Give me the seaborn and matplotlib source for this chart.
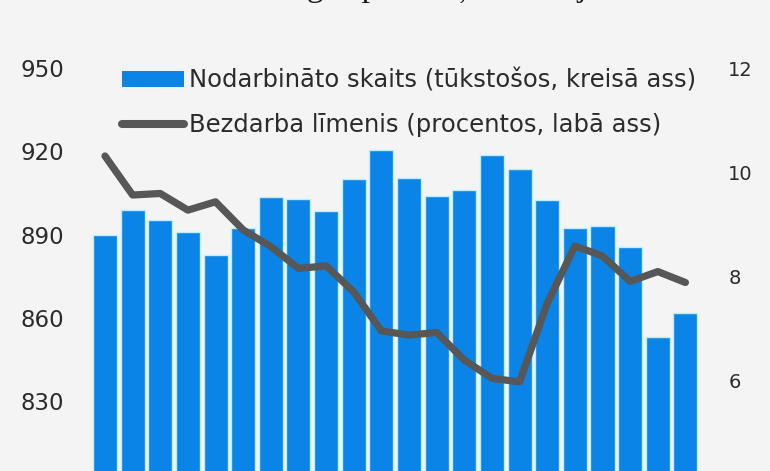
import numpy as np
import pandas as pd
import matplotlib
matplotlib.use("Agg")
import matplotlib.pyplot as plt
import seaborn as sns
from matplotlib.patches import Patch
from matplotlib.lines import Line2D

# ---- data ----
periods = ["P01", "P02", "P03", "P04", "P05", "P06", "P07", "P08", "P09", "P10", "P11",
           "P12", "P13", "P14", "P15", "P16", "P17", "P18", "P19", "P20", "P21", "P22"]
employed = [889.9, 898.9, 895.3, 890.8, 882.7, 892.3, 903.4, 902.9, 898.4, 910.0, 920.5,
            910.5, 903.9, 906.1, 918.7, 913.5, 902.5, 892.3, 893.2, 885.6, 853.2, 861.9]
unemployment = [10.31, 9.56, 9.59, 9.27, 9.43, 8.89, 8.57, 8.15, 8.20, 7.70, 6.95,
                6.87, 6.92, 6.39, 6.04, 5.97, 7.48, 8.58, 8.39, 7.90, 8.09, 7.88]
left_ticks = [830, 860, 890, 920, 950]
right_ticks = [6, 8, 10, 12]
label_bars = "Nodarbināto skaits (tūkstošos, kreisā ass)"
label_line = "Bezdarba līmenis (procentos, labā ass)"
title_text = "Darba tirgus pārmaiņas Latvijā"

bar_color = "#0a84e6"
line_color = "#575757"
bg = "#f4f4f4"
txt_color = "#2b2b2b"

sns.set_theme(style="white")
plt.rcParams["font.family"] = ["DejaVu Sans"]

df = pd.DataFrame({"period": periods, "employed": employed,
                   "unemployment": unemployment})
df["pos"] = np.arange(len(df))

W, H = 770, 471
fig = plt.figure(figsize=(W / 100, H / 100), dpi=100, facecolor=bg)
ax_left, ax_top, ax_right, ax_bottom = 80.1, 68.0, 710.3, 484.5
ax = fig.add_axes([ax_left / W, (H - ax_bottom) / H,
                   (ax_right - ax_left) / W, (ax_bottom - ax_top) / H])
ax.set_facecolor(bg)

sns.barplot(data=df, x="pos", y="employed", color=bar_color, saturation=1,
            width=0.87, edgecolor="#bdeeff", linewidth=1.0, ax=ax)
ax.set_xlim(-0.9, 21.9)
ax.set_ylim(800, 950)
ax.set_yticks(left_ticks)
ax.set_yticklabels([str(t) for t in left_ticks], fontsize=16.5, color=txt_color)
ax.set_xticks([])
ax.set_xlabel("")
ax.set_ylabel("")
ax.tick_params(axis="y", length=0, pad=11.5)

ax2 = ax.twinx()
sns.lineplot(data=df, x="pos", y="unemployment", color=line_color, linewidth=5.2,
             ax=ax2, solid_capstyle="round", solid_joinstyle="round")
ax2.set_ylim(4, 12)
ax2.set_yticks(right_ticks)
ax2.set_yticklabels([str(t) for t in right_ticks], fontsize=14, color=txt_color)
ax2.tick_params(axis="y", length=0, pad=13)
ax2.set_xlabel("")
ax2.set_ylabel("")
ax2.set_xlim(-0.9, 21.9)

for a in (ax, ax2):
    for s in a.spines.values():
        s.set_visible(False)

handles = [Patch(facecolor=bar_color, edgecolor="none"),
           Line2D([0], [0], color=line_color, linewidth=5.8, solid_capstyle="round")]
fig.legend(handles, [label_bars, label_line], loc="upper left",
           bbox_to_anchor=(122 / W, 1 - 68.5 / H), frameon=False, labelcolor=txt_color,
           fontsize=17.5, handlelength=2.55, handleheight=0.66, handletextpad=0.2,
           labelspacing=0.84, borderpad=0, borderaxespad=0)

fig.text(395 / W, 1 + 4.0 / H, title_text, ha="center", va="baseline",
         fontsize=24, family=["Liberation Serif", "DejaVu Serif"], color="#1a1a1a")

fig.savefig("out.png", dpi=100, facecolor=bg)
